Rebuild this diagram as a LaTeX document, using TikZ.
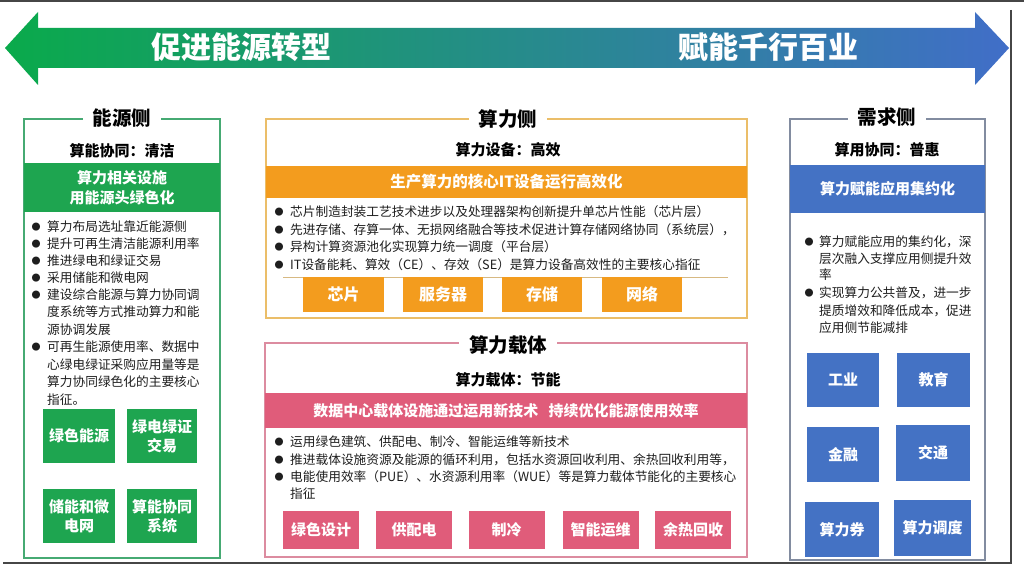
\documentclass[tikz,border=0pt]{standalone}
\usepackage{fontspec}
\setmainfont{Noto Sans CJK SC}
\definecolor{agreen}{RGB}{10,170,75}
\definecolor{ateal}{RGB}{40,160,150}
\definecolor{ablue}{RGB}{65,110,200}
\definecolor{cgreen}{RGB}{30,165,80}
\definecolor{corange}{RGB}{243,156,30}
\definecolor{cpink}{RGB}{224,92,122}
\definecolor{cblue}{RGB}{68,114,196}
\definecolor{bgreen}{RGB}{70,170,115}
\definecolor{borange}{RGB}{235,190,105}
\definecolor{bpink}{RGB}{220,140,160}
\definecolor{bgray}{RGB}{130,140,160}
\definecolor{txt}{RGB}{30,30,30}
\definecolor{frm}{RGB}{70,70,70}
\definecolor{sepc}{RGB}{215,185,130}
\begin{document}
\begin{tikzpicture}[x=1pt,y=-1pt,
  panel/.style={draw=#1, line width=1.6pt, inner sep=0pt},
  band/.style={fill=#1, text=white, font=\bfseries\fontsize{15}{20}\selectfont, inner sep=0pt, align=center},
  ttl/.style={fill=white, font=\bfseries\fontsize{19.5}{20}\selectfont, inner xsep=10pt, inner ysep=1pt, text height=17pt, text depth=2pt},
  subt/.style={font=\bfseries\fontsize{15}{18}\selectfont, inner sep=0pt, text height=13pt, text depth=1.5pt},
  bt/.style={anchor=west, inner sep=0pt, font=\fontsize{12.7}{15}\selectfont, text=txt, text height=11pt, text depth=1.4pt},
  dotb/.style={inner sep=0pt, font=\fontsize{9}{9}\selectfont, text=txt},
  tile/.style={fill=#1, text=white, font=\bfseries\fontsize{15}{19}\selectfont, align=center, inner sep=0pt},
  arrtxt/.style={text=white, font=\bfseries\fontsize{30}{30}\selectfont, inner sep=0pt},
  frame/.style={draw=frm, line width=1.3pt},
  sepl/.style={draw=sepc, line width=0.8pt}
]
\useasboundingbox (0,0) rectangle (1024,569);
\fill[white] (0,0) rectangle (1024,569);
% screen frame
\draw[frame] (0,1) -- (1024,1);
\draw[frame] (1011,10) -- (1011,563) -- (3,563);

% big double arrow
\shade[left color=agreen, middle color=ateal, right color=ablue]
  (5,48) -- (38,12) -- (38,28) -- (975,28) -- (975,12) -- (1009,48)
  -- (975,85) -- (975,68) -- (38,68) -- (38,85) -- cycle;
\node[arrtxt] (t1) at (241,47) {促进能源转型};
\node[arrtxt] (t2) at (768,47) {赋能千行百业};

% ---------- left panel ----------
\node[panel=bgreen, minimum width=196pt, minimum height=439pt] (pl) at (122,338.5) {};
\node[band=cgreen, minimum width=196pt, minimum height=49pt] (plb) at (122,187.5) {算力相关设施\\用能源头绿色化};
\node[ttl] (plt) at (122,118) {能源侧};
\node[subt] (pls) at (122,151) {算能协同：清洁};
\node[dotb] (ld1) at (36,227) {●};
\node[bt] (l1) at (47,227) {算力布局选址靠近能源侧};
\node[dotb] (ld2) at (36,244) {●};
\node[bt] (l2) at (47,244) {提升可再生清洁能源利用率};
\node[dotb] (ld3) at (36,261) {●};
\node[bt] (l3) at (47,261) {推进绿电和绿证交易};
\node[dotb] (ld4) at (36,278) {●};
\node[bt] (l4) at (47,278) {采用储能和微电网};
\node[dotb] (ld5) at (36,295) {●};
\node[bt] (l5) at (47,295) {建设综合能源与算力协同调};
\node[bt] (l6) at (47,312) {度系统等方式推动算力和能};
\node[bt] (l7) at (47,330) {源协调发展};
\node[dotb] (ld8) at (36,347) {●};
\node[bt] (l8) at (47,347) {可再生能源使用率、数据中};
\node[bt] (l9) at (47,365) {心绿电绿证采购应用量等是};
\node[bt] (l10) at (47,382) {算力协同绿色化的主要核心};
\node[bt] (l11) at (47,400) {指征。};
\node[tile=cgreen, minimum width=72pt, minimum height=54pt] (g1) at (79,436) {绿色能源};
\node[tile=cgreen, minimum width=70pt, minimum height=54pt] (g2) at (162,436) {绿电绿证\\交易};
\node[tile=cgreen, minimum width=72pt, minimum height=54pt] (g3) at (79,516) {储能和微\\电网};
\node[tile=cgreen, minimum width=70pt, minimum height=54pt] (g4) at (162,516) {算能协同\\系统};

% ---------- middle top panel ----------
\node[panel=borange, minimum width=481pt, minimum height=199pt] (pm) at (506.5,218.5) {};
\node[band=corange, minimum width=481pt, minimum height=32pt, font=\bfseries\fontsize{15.5}{20}\selectfont] (pmb) at (506.5,182) {生产算力的核心IT设备运行高效化};
\node[ttl] (pmt) at (508,119) {算力侧};
\node[subt] (pms) at (508,150) {算力设备：高效};
\node[dotb] (md1) at (279,212) {●};
\node[bt] (m1) at (290,212) {芯片制造封装工艺技术进步以及处理器架构创新提升单芯片性能（芯片层）};
\node[dotb] (md2) at (279,230) {●};
\node[bt] (m2) at (290,230) {先进存储、存算一体、无损网络融合等技术促进计算存储网络协同（系统层），};
\node[dotb] (md3) at (279,247) {●};
\node[bt] (m3) at (290,247) {异构计算资源池化实现算力统一调度（平台层）};
\node[dotb] (md4) at (279,265) {●};
\node[bt] (m4) at (290,265) {IT设备能耗、算效（CE）、存效（SE）是算力设备高效性的主要核心指征};
\coordinate (sa) at (283,277);
\coordinate (sb) at (728,277);
\draw[sepl] (sa) -- (sb);
\node[tile=corange, minimum width=81pt, minimum height=35pt, font=\bfseries\fontsize{16}{19}\selectfont] (o1) at (343.5,294.5) {芯片};
\node[tile=corange, minimum width=80pt, minimum height=35pt, font=\bfseries\fontsize{16}{19}\selectfont] (o2) at (443,294.5) {服务器};
\node[tile=corange, minimum width=80pt, minimum height=35pt, font=\bfseries\fontsize{16}{19}\selectfont] (o3) at (542,294.5) {存储};
\node[tile=corange, minimum width=80pt, minimum height=35pt, font=\bfseries\fontsize{16}{19}\selectfont] (o4) at (642,294.5) {网络};

% ---------- middle bottom panel ----------
\node[panel=bpink, minimum width=482pt, minimum height=214pt] (pc) at (506,450) {};
\node[band=cpink, minimum width=482pt, minimum height=35pt] (pcb) at (506,410.5) {数据中心载体设施通过运用新技术\hspace{0.7em}持续优化能源使用效率};
\node[ttl] (pct) at (508,345) {算力载体};
\node[subt] (pcs) at (508,380) {算力载体：节能};
\node[dotb] (cd1) at (279,442) {●};
\node[bt] (c1) at (290,442) {运用绿色建筑、供配电、制冷、智能运维等新技术};
\node[dotb] (cd2) at (279,460) {●};
\node[bt] (c2) at (290,460) {推进载体设施资源及能源的循环利用，包括水资源回收利用、余热回收利用等，};
\node[dotb] (cd3) at (279,477) {●};
\node[bt] (c3) at (290,477) {电能使用效率（PUE）、水资源利用率（WUE）等是算力载体节能化的主要核心};
\node[bt] (c4) at (290,494) {指征};
\node[tile=cpink, minimum width=76pt, minimum height=38pt] (k1) at (321,530) {绿色设计};
\node[tile=cpink, minimum width=76pt, minimum height=38pt] (k2) at (414,530) {供配电};
\node[tile=cpink, minimum width=76pt, minimum height=38pt] (k3) at (506.5,530) {制冷};
\node[tile=cpink, minimum width=76pt, minimum height=38pt] (k4) at (600.5,530) {智能运维};
\node[tile=cpink, minimum width=76pt, minimum height=38pt] (k5) at (693,530) {余热回收};

% ---------- right panel ----------
\node[panel=bgray, minimum width=195pt, minimum height=441pt] (pr) at (887.5,339.5) {};
\node[band=cblue, minimum width=195pt, minimum height=48pt] (prb) at (887.5,189) {算力赋能应用集约化};
\node[ttl] (prt) at (887,117) {需求侧};
\node[subt] (prs) at (887,150) {算用协同：普惠};
\node[dotb] (rd1) at (809,242) {●};
\node[bt] (r1) at (819,242) {算力赋能应用的集约化，深};
\node[bt] (r2) at (819,259) {层次融入支撑应用侧提升效};
\node[bt] (r3) at (819,275) {率};
\node[dotb] (rd4) at (809,293) {●};
\node[bt] (r4) at (819,293) {实现算力公共普及，进一步};
\node[bt] (r5) at (819,311) {提质增效和降低成本，促进};
\node[bt] (r6) at (819,328) {应用侧节能减排};
\node[tile=cblue, minimum width=72pt, minimum height=54pt] (b1) at (843,380) {工业};
\node[tile=cblue, minimum width=73pt, minimum height=54pt] (b2) at (933.5,380) {教育};
\node[tile=cblue, minimum width=72pt, minimum height=55pt] (b3) at (843,454.5) {金融};
\node[tile=cblue, minimum width=74pt, minimum height=56pt] (b4) at (933,453) {交通};
\node[tile=cblue, minimum width=74pt, minimum height=55pt] (b5) at (842,529.5) {算力券};
\node[tile=cblue, minimum width=77pt, minimum height=56pt] (b6) at (932.5,528) {算力调度};
\end{tikzpicture}
\end{document}
